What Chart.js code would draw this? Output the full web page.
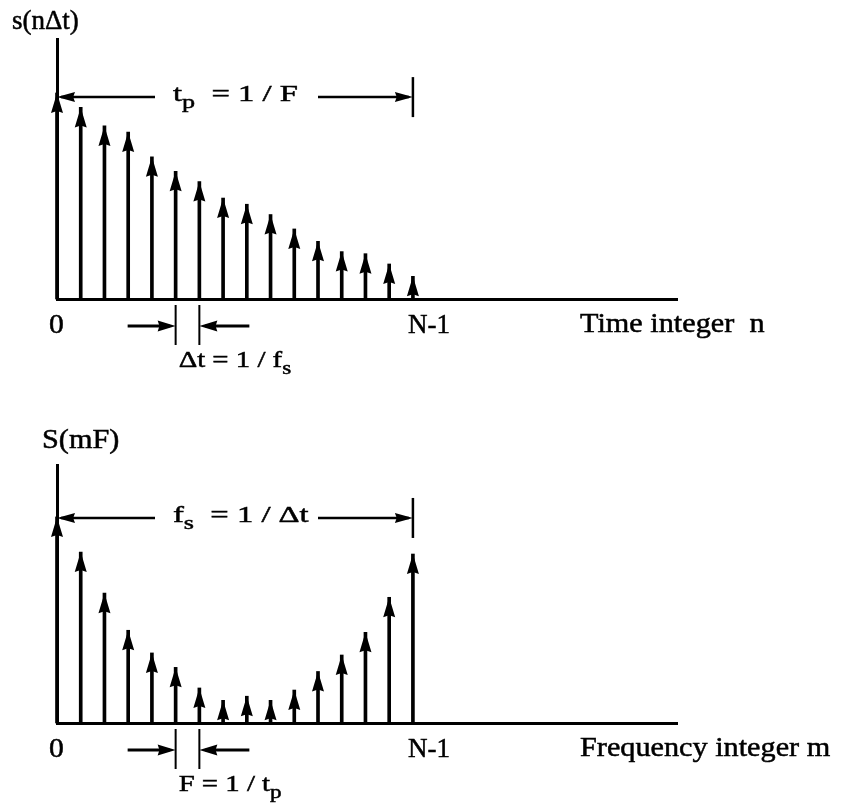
<!DOCTYPE html>
<html>
<head>
<meta charset="utf-8">
<script src="https://cdn.jsdelivr.net/npm/chart.js@4.4.1/dist/chart.umd.min.js"></script>
<style>
  html, body { margin: 0; padding: 0; background: #fff; }
  .panel { width: 844px; height: 404px; }
  canvas { display: block; }
</style>
</head>
<body>
<div class="panel"><canvas id="time-chart" width="844" height="404"></canvas></div>
<div class="panel"><canvas id="freq-chart" width="844" height="404"></canvas></div>
<script>
// sample index n (time) / m (frequency), 0 .. N-1
const sampleIdx = [0, 1, 2, 3, 4, 5, 6, 7, 8, 9, 10, 11, 12, 13, 14, 15];
// s(nΔt): decaying time samples (normalised, first sample = 1)
const timeSamples = [1.00, 0.93, 0.84, 0.81, 0.69, 0.62, 0.57, 0.49, 0.46, 0.41, 0.34, 0.28, 0.23, 0.22, 0.17, 0.11];
// S(mF): spectrum magnitude, symmetric-ish about N/2
const freqSamples = [1.00, 0.83, 0.63, 0.45, 0.34, 0.27, 0.17, 0.11, 0.13, 0.11, 0.16, 0.25, 0.33, 0.44, 0.61, 0.82];
// labelled ticks on the integer axis
const tickIdx = [0, 15];
const tickText = ['0', 'N-1'];

const FONT = '"Liberation Serif", "Times New Roman", serif';

// text in pieces, [text, isSubscript], stretched horizontally by sx
function drawText(ctx, parts, x, y, size, sx) {
  ctx.save();
  ctx.translate(x, y);
  ctx.scale(sx, 1);
  ctx.fillStyle = '#000';
  ctx.strokeStyle = '#000';
  ctx.lineWidth = 0.5;
  ctx.textBaseline = 'alphabetic';
  ctx.textAlign = 'left';
  let cx = 0;
  for (const [s, sub] of parts) {
    const fs = sub ? size * 0.8 : size;
    const dy = sub ? size * 0.3 : 0;
    ctx.font = `${fs}px ${FONT}`;
    ctx.fillText(s, cx, dy);
    ctx.strokeText(s, cx, dy); // scan is a bit heavier than the plain face
    cx += ctx.measureText(s).width;
  }
  ctx.restore();
}

// filled arrowhead, tip at (x,y), pointing along (dx,dy)
function arrowHead(ctx, x, y, dx, dy, len, half) {
  const px = -dy, py = dx;
  ctx.beginPath();
  ctx.moveTo(x, y);
  ctx.lineTo(x - dx * len + px * half, y - dy * len + py * half);
  ctx.lineTo(x - dx * len * 0.9, y - dy * len * 0.9);
  ctx.lineTo(x - dx * len - px * half, y - dy * len - py * half);
  ctx.closePath();
  ctx.fill();
}

function line(ctx, x1, y1, x2, y2, w) {
  ctx.lineWidth = w;
  ctx.beginPath();
  ctx.moveTo(x1, y1);
  ctx.lineTo(x2, y2);
  ctx.stroke();
}

// arrowheads on the impulses + all the dimension marks and labels
function decoPlugin(d) {
  return {
    id: 'impulseDeco',
    afterDatasetsDraw(chart) {
      const ctx = chart.ctx;
      const xs = chart.scales.x, ys = chart.scales.y;
      const base = chart.chartArea.bottom;
      ctx.save();
      ctx.fillStyle = '#000';
      ctx.strokeStyle = '#000';

      chart.getDatasetMeta(0).data.forEach(bar => arrowHead(ctx, bar.x, bar.y, 0, -1, 20, 6));

      // axis names
      drawText(ctx, [[d.yName]], d.yNameX, d.yNameY, 27, d.yNameSx);
      drawText(ctx, [[d.xName]], 580, base + 33, 27, 1.12);

      // 0 and N-1
      tickIdx.forEach((v, i) => {
        const x = xs.getPixelForValue(v);
        drawText(ctx, [[tickText[i]]], i === 0 ? x - 8 : x - 5, base + 34, 27, i === 0 ? 1.1 : 1.0);
      });

      // period span arrow 0 .. N-1
      const x0 = xs.getPixelForValue(0), x1 = xs.getPixelForValue(15);
      const sy = ys.getPixelForValue(d.spanLevel);
      line(ctx, x0 + 4, sy, x0 + 98, sy, 2.5);
      line(ctx, x0 + 261, sy, x1 - 4, sy, 2.5);
      arrowHead(ctx, x0, sy, -1, 0, 18, 5);
      arrowHead(ctx, x1, sy, 1, 0, 18, 5);
      line(ctx, x1, sy - 20, x1, sy + 20, 2.5);
      drawText(ctx, d.spanText, x0 + 116, sy + 4, 24, 1.36);

      // one-step spacing between samples 5 and 6
      const a = xs.getPixelForValue(5), b = xs.getPixelForValue(6);
      line(ctx, a, base + 6, a, base + 46, 2);
      line(ctx, b, base + 6, b, base + 46, 2);
      line(ctx, a - 48, base + 27, a - 6, base + 27, 3);
      arrowHead(ctx, a, base + 27, 1, 0, 18, 5.5);
      line(ctx, b + 6, base + 27, b + 50, base + 27, 3);
      arrowHead(ctx, b, base + 27, -1, 0, 18, 5.5);
      drawText(ctx, d.stepText, a + 3, base + 68, 24, 1.2);

      ctx.restore();
    }
  };
}

function makeChart(id, values, yMax, padTop, padBottom, deco) {
  return new Chart(document.getElementById(id), {
    type: 'bar',
    data: {
      datasets: [{
        data: sampleIdx.map((n, i) => ({ x: n, y: values[i] })),
        backgroundColor: '#000',
        barThickness: 3,
        clip: 30
      }]
    },
    options: {
      responsive: false,
      animation: false,
      devicePixelRatio: 1,
      layout: { padding: { left: 57, right: 167, top: padTop, bottom: padBottom } },
      plugins: { legend: { display: false }, tooltip: { enabled: false } },
      scales: {
        x: {
          type: 'linear', min: 0, max: 26.13, offset: false,
          grid: { display: false, drawTicks: false }, ticks: { display: false },
          border: { color: '#000', width: 3 }
        },
        y: {
          min: 0, max: yMax,
          grid: { display: false, drawTicks: false }, ticks: { display: false },
          border: { color: '#000', width: 3 }
        }
      }
    },
    plugins: [decoPlugin(deco)]
  });
}

makeChart('time-chart', timeSamples, 1.262, 39, 105, {
  yName: 's(nΔt)', yNameX: 12, yNameY: 29, yNameSx: 1.0,
  xName: 'Time integer  n',
  spanLevel: 0.98,
  spanText: [['t'], ['p', true], ['  = 1 / F']],
  stepText: [['Δt = 1 / f'], ['s', true]]
});

makeChart('freq-chart', freqSamples, 1.252, 61, 85, {
  yName: 'S(mF)', yNameX: 42, yNameY: 44, yNameSx: 1.12,
  xName: 'Frequency integer m',
  spanLevel: 0.995,
  spanText: [['f'], ['s', true], ['  = 1 / Δt']],
  stepText: [['F = 1 / t'], ['p', true]]
});
</script>
</body>
</html>
